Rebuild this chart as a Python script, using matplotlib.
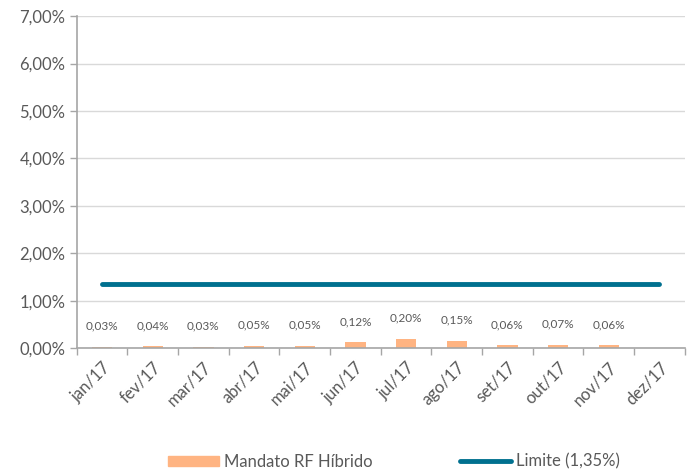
import numpy as np
import matplotlib
matplotlib.use('Agg')
from matplotlib import pyplot as plt
from matplotlib.ticker import FuncFormatter
from matplotlib.patches import Patch
from matplotlib.lines import Line2D

# data
months = ['jan/17', 'fev/17', 'mar/17', 'abr/17', 'mai/17', 'jun/17',
          'jul/17', 'ago/17', 'set/17', 'out/17', 'nov/17', 'dez/17']
mandato = [0.03, 0.04, 0.03, 0.05, 0.05, 0.12, 0.20, 0.15, 0.06, 0.07, 0.06]
limite = 1.35

bar_color = '#FFB482'
line_color = '#00708F'
text_color = '#595959'

plt.rcParams['font.family'] = ['Lato', 'DejaVu Sans']

fig = plt.figure(figsize=(6.91, 4.75), dpi=100)
ax = fig.add_axes([0.111, 0.267, 0.88, 0.699])

x = np.arange(len(months))
xb = x[:len(mandato)]
ax.bar(xb, mandato, width=0.4, color=bar_color, zorder=2)

# data labels
for xi, v in zip(xb, mandato):
    ax.annotate('{:.2f}%'.format(v).replace('.', ','), (xi, v),
                xytext=(0, 11), textcoords='offset points',
                ha='center', va='bottom', fontsize=8.5, color=text_color)

ax.plot([x[0], x[-1]], [limite, limite], color=line_color, lw=3.5,
        solid_capstyle='round', zorder=3)

ax.set_xlim(-0.5, len(months) - 0.5)
ax.set_ylim(0, 7)
ax.set_yticks(np.arange(0, 8, 1))
ax.yaxis.set_major_formatter(FuncFormatter(lambda v, p: '{:.2f}%'.format(v).replace('.', ',')))
ax.grid(axis='y', color='#D9D9D9', lw=1, zorder=0)

ax.set_xticks(x)
ax.set_xticklabels(months, rotation=45, ha='right', rotation_mode='anchor')
ax.set_xticks(np.arange(-0.5, len(months), 1), minor=True)
ax.tick_params(axis='x', which='major', length=0, pad=8, labelsize=12, labelcolor=text_color)
ax.tick_params(axis='x', which='minor', length=5, color='#A6A6A6', width=1)
ax.tick_params(axis='y', length=5, color='#A6A6A6', width=1, labelsize=12,
               labelcolor=text_color, pad=3)

for s in ['top', 'right']:
    ax.spines[s].set_visible(False)
for s in ['left', 'bottom']:
    ax.spines[s].set_color('#A6A6A6')
    ax.spines[s].set_linewidth(1.2)

# legend
handles = [Patch(color=bar_color, label='Mandato RF Híbrido'),
           Line2D([], [], color=line_color, lw=3.5, solid_capstyle='round',
                  label='Limite (1,35%)')]
fig.legend(handles=handles, loc='center', bbox_to_anchor=(0.57, 0.028), ncol=2,
           frameon=False, fontsize=12, labelcolor=text_color, handlelength=3.1,
           handleheight=0.6, columnspacing=5.2, handletextpad=0.3)

fig.savefig('out.png', dpi=100)
